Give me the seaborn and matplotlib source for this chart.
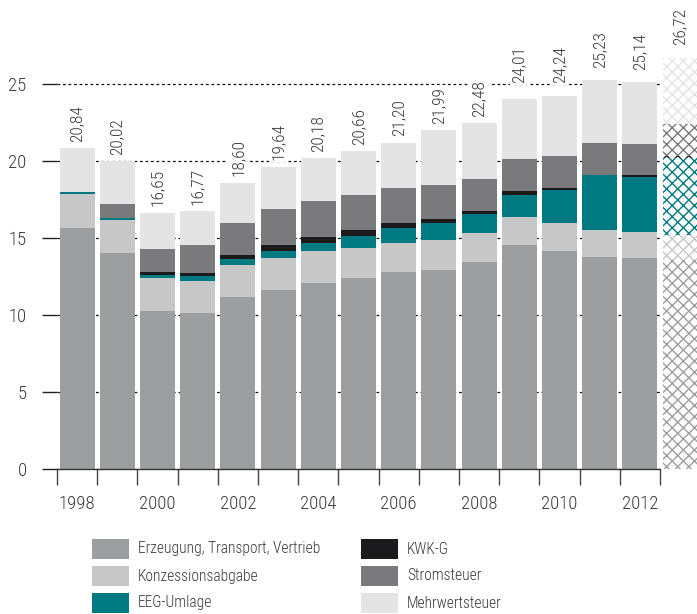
import numpy as np
import pandas as pd
import matplotlib
matplotlib.use("Agg")
import matplotlib.pyplot as plt
from matplotlib import font_manager
from matplotlib.patches import Rectangle
import seaborn as sns

# ---------------- data ----------------
years = [1998, 1999, 2000, 2001, 2002, 2003, 2004, 2005, 2006, 2007, 2008, 2009, 2010, 2011, 2012]
erzeugung = [15.65, 14.03, 10.26, 10.13, 11.17, 11.62, 12.08, 12.40, 12.79, 12.92, 13.44, 14.55, 14.16, 13.77, 13.72]
konzession = [2.23, 2.14, 2.14, 2.08, 2.08, 2.08, 2.08, 1.95, 1.89, 1.95, 1.88, 1.81, 1.81, 1.75, 1.67]
eeg = [0.09, 0.15, 0.20, 0.32, 0.39, 0.46, 0.52, 0.78, 0.97, 1.10, 1.24, 1.43, 2.15, 3.57, 3.59]
kwk = [0.00, 0.00, 0.19, 0.20, 0.26, 0.39, 0.38, 0.39, 0.32, 0.26, 0.19, 0.26, 0.13, 0.03, 0.13]
stromsteuer = [0.00, 0.89, 1.50, 1.82, 2.07, 2.33, 2.34, 2.27, 2.28, 2.21, 2.08, 2.08, 2.07, 2.05, 1.99]
mehrwertsteuer = [2.87, 2.81, 2.36, 2.22, 2.63, 2.76, 2.78, 2.87, 2.95, 3.55, 3.65, 3.88, 3.92, 4.06, 4.04]
totals = [20.84, 20.02, 16.65, 16.77, 18.60, 19.64, 20.18, 20.66, 21.20, 21.99, 22.48, 24.01, 24.24, 25.23, 25.14]

# 2013 (Prognose, schraffiert)
year_2013 = 2013
values_2013 = [13.57, 1.62, 5.03, 0.13, 2.05, 4.32]
total_2013 = 26.72

labels = ["Erzeugung, Transport, Vertrieb", "Konzessionsabgabe", "EEG-Umlage",
          "KWK-G", "Stromsteuer", "Mehrwertsteuer"]
colors = ["#9d9ea0", "#c6c7c6", "#007a80", "#1b1a1c", "#7a7a7c", "#e3e4e3"]
yticks = [0, 5, 10, 15, 20, 25]
xtick_years = [1998, 2000, 2002, 2004, 2006, 2008, 2010, 2012]

# ---------------- style ----------------
sns.set_theme(style="white")
names = {f.name for f in font_manager.fontManager.ttflist}
font = "Roboto Condensed" if "Roboto Condensed" in names else "Open Sans"
plt.rcParams["font.family"] = [font, "DejaVu Sans"]
plt.rcParams["font.weight"] = "light"
plt.rcParams["hatch.linewidth"] = 1.0
txt_color = "#3a3a3a"

W, H = 697, 614
fig = plt.figure(figsize=(W / 100, H / 100), dpi=100)
ax_left, ax_right, ax_bottom = 57, 660, 469
ymax = 28
px_per_unit = 15.4
ax_top = ax_bottom - ymax * px_per_unit
ax = fig.add_axes([ax_left / W, (H - ax_bottom) / H, (ax_right - ax_left) / W, (ax_bottom - ax_top) / H])

df = pd.DataFrame({
    "Jahr": years,
    labels[0]: erzeugung,
    labels[1]: konzession,
    labels[2]: eeg,
    labels[3]: kwk,
    labels[4]: stromsteuer,
    labels[5]: mehrwertsteuer,
})

bottom = np.zeros(len(years))
bar_w = 0.87
for lab, col in zip(labels, colors):
    sns.barplot(data=df, x="Jahr", y=lab, bottom=bottom.copy(), color=col, saturation=1,
                width=bar_w, errorbar=None, ax=ax, linewidth=0, edgecolor="none", zorder=2)
    bottom += df[lab].to_numpy()

# 2013 hatched bar (outside the axes frame)
pos_2013 = len(years)
b = 0.0
for v, col in zip(values_2013, colors):
    ax.bar(pos_2013, v, bottom=b, width=bar_w, facecolor="white", edgecolor=col,
           hatch="xxx", linewidth=0, clip_on=False, zorder=2)
    b += v

# total labels (white box hides the dotted grid line behind them)
all_totals = totals + [total_2013]
for i, t in enumerate(all_totals):
    if t > 23.5:
        yb = max(t + 0.8, 25.05)
    else:
        yb = t + 0.4
    ax.text(i, yb, f"{t:.2f}".replace(".", ","), rotation=90, ha="center", va="bottom",
            fontsize=12.5, color=txt_color, clip_on=False, zorder=3,
            bbox=dict(facecolor="white", edgecolor="none", pad=1.5))

# axes styling
ax.set_xlim(-0.5, len(years) - 0.5)
ax.set_ylim(0, ymax)
ax.set_xlabel("")
ax.set_ylabel("")
for s in ["left", "top", "right"]:
    ax.spines[s].set_visible(False)
ax.spines["bottom"].set_color("#333333")
ax.spines["bottom"].set_linewidth(1.0)

ax.set_yticks(yticks)
ax.set_yticklabels([str(v) for v in yticks], fontsize=13.5, color=txt_color)
ax.tick_params(axis="y", direction="out", length=10.8, width=1.0, color="#222222", pad=11, left=True)

xt = [years.index(y) for y in xtick_years]
ax.set_xticks(xt)
ax.set_xticklabels([str(y) for y in xtick_years], fontsize=13.5, color=txt_color)
ax.set_xticks(np.arange(-0.5, len(years), 1.0), minor=True)
ax.tick_params(axis="x", which="major", length=0, pad=19)
ax.tick_params(axis="x", which="minor", direction="out", length=11.5, width=1.0, color="#444444", bottom=True)

ax.yaxis.grid(True, color="#111111", linestyle=(0, (2.2, 2.2)), linewidth=0.9)
ax.xaxis.grid(False)
ax.set_axisbelow(True)

# legend (two columns)
def fx(px):
    return px / W

def fy(py):
    return (H - py) / H

rows_y = [549, 576, 603]
cols_x = [92, 361]
hw, hh = 37, 20
for k, (lab, col) in enumerate(zip(labels, colors)):
    c, r = divmod(k, 3)
    x0 = cols_x[c]
    yc = rows_y[r]
    fig.add_artist(Rectangle((fx(x0), fy(yc + hh / 2)), hw / W, hh / H, transform=fig.transFigure,
                             facecolor=col, edgecolor="none"))
    fig.text(fx(x0 + hw + 9), fy(yc), lab, ha="left", va="center", fontsize=11.2,
             color=txt_color)

fig.savefig("out.png", dpi=100)
